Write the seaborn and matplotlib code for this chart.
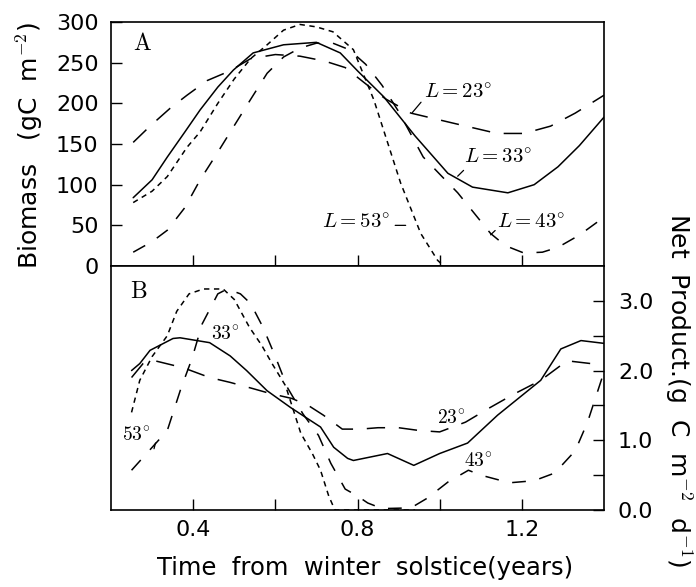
import matplotlib
matplotlib.use('Agg')
import matplotlib.pyplot as plt
import seaborn as sns

# ---- panel A: biomass (gC m-2) ----
t23_a = [0.254, 0.295, 0.344, 0.385, 0.434, 0.49, 0.54, 0.60, 0.66, 0.72, 0.77, 0.81,
         0.85, 0.87, 0.93, 1.03, 1.14, 1.205, 1.27, 1.33, 1.40]
b23 = [152, 172, 194, 210, 228, 240, 255, 260, 258, 252, 244, 228,
       212, 205, 188, 176, 163, 163, 172, 188, 210]

t33_a = [0.254, 0.30, 0.337, 0.38, 0.417, 0.46, 0.498, 0.546, 0.62, 0.70, 0.758, 0.80,
         0.864, 0.94, 1.02, 1.08, 1.166, 1.23, 1.288, 1.34, 1.40]
b33 = [84, 106, 134, 165, 192, 220, 241, 262, 272, 275, 262, 240,
       208, 160, 114, 97, 90, 100, 122, 148, 183]

t43_a = [0.254, 0.30, 0.337, 0.38, 0.417, 0.46, 0.498, 0.54, 0.58, 0.62, 0.66, 0.70,
         0.74, 0.78, 0.82, 0.86, 0.90, 0.96, 1.00, 1.044, 1.124, 1.16, 1.205, 1.25,
         1.288, 1.34, 1.40]
b43 = [17, 30, 44, 72, 106, 140, 171, 205, 237, 257, 268, 274,
       274, 266, 248, 222, 190, 134, 113, 90, 40, 25, 16, 17,
       23, 38, 60]

t53_a = [0.254, 0.30, 0.337, 0.385, 0.417, 0.46, 0.50, 0.54, 0.58, 0.62, 0.66, 0.70,
         0.74, 0.79, 0.84, 0.905, 0.954, 0.995, 1.01]
b53 = [78, 92, 110, 146, 165, 200, 230, 255, 272, 290, 297, 294,
       288, 266, 204, 102, 40, 7, 0]

# ---- panel B: net production (g C m-2 d-1) ----
t23_b = [0.25, 0.278, 0.30, 0.376, 0.44, 0.49, 0.546, 0.588, 0.64, 0.68, 0.717, 0.763,
         0.807, 0.85, 0.90, 0.95, 1.00, 1.063, 1.12, 1.18, 1.246, 1.31, 1.368]
p23 = [1.9, 2.1, 2.15, 2.04, 1.9, 1.83, 1.74, 1.67, 1.6, 1.5, 1.36, 1.16,
       1.16, 1.18, 1.18, 1.14, 1.12, 1.26, 1.46, 1.66, 1.86, 2.14, 2.1]

t33_b = [0.25, 0.27, 0.295, 0.351, 0.368, 0.44, 0.49, 0.53, 0.58, 0.637, 0.71, 0.742,
         0.776, 0.79, 0.873, 0.937, 1.0, 1.068, 1.141, 1.246, 1.295, 1.344, 1.40]
p33 = [2.0, 2.1, 2.29, 2.46, 2.47, 2.4, 2.21, 2.0, 1.71, 1.47, 1.19, 0.9,
       0.74, 0.71, 0.81, 0.64, 0.81, 0.96, 1.36, 1.86, 2.31, 2.43, 2.39]

t43_b = [0.25, 0.337, 0.37, 0.397, 0.422, 0.46, 0.483, 0.515, 0.54, 0.57, 0.60, 0.63,
         0.667, 0.705, 0.735, 0.77, 0.80, 0.825, 0.86, 0.93, 0.97, 1.02, 1.07, 1.1,
         1.17, 1.23, 1.28, 1.33, 1.36, 1.40]
p43 = [0.57, 1.14, 1.74, 2.17, 2.67, 3.1, 3.17, 3.1, 2.96, 2.62, 2.2, 1.75,
       1.38, 1.07, 0.67, 0.3, 0.2, 0.1, 0.02, 0.03, 0.17, 0.4, 0.57, 0.5,
       0.39, 0.42, 0.53, 0.85, 1.26, 1.98]

t53_b = [0.25, 0.27, 0.30, 0.337, 0.36, 0.39, 0.425, 0.473, 0.50, 0.537, 0.567, 0.592,
         0.625, 0.662, 0.69, 0.71, 0.73, 0.745, 0.80, 0.94]
p53 = [1.4, 1.86, 2.2, 2.5, 2.85, 3.1, 3.17, 3.17, 3.02, 2.62, 2.36, 2.1,
       1.78, 1.1, 0.81, 0.57, 0.2, 0.0, 0.0, 0.0]

dash23 = (0, (12, 9))
dash43 = (0, (9, 9))
dash53 = (0, (3.5, 3))

sns.set_style('ticks')
plt.rcParams['font.family'] = ['DejaVu Sans']
plt.rcParams['mathtext.fontset'] = 'cm'
for k in ['text.color', 'axes.labelcolor', 'xtick.color', 'ytick.color', 'axes.edgecolor']:
    plt.rcParams[k] = 'black'

fig = plt.figure(figsize=(6.96, 5.87), dpi=100)
axA = fig.add_axes([0.1595, 0.5468, 0.7083, 0.4157])
axB = fig.add_axes([0.1595, 0.1312, 0.7083, 0.4157])

for ax in (axA, axB):
    for s in ax.spines.values():
        s.set_visible(True)
        s.set_linewidth(1.2)
        s.set_color('black')

# panel A curves
sns.lineplot(x=t23_a, y=b23, ax=axA, color='k', lw=1.1, linestyle=dash23, sort=False, estimator=None)
sns.lineplot(x=t33_a, y=b33, ax=axA, color='k', lw=1.1, sort=False, estimator=None)
sns.lineplot(x=t43_a, y=b43, ax=axA, color='k', lw=1.1, linestyle=dash43, sort=False, estimator=None)
sns.lineplot(x=t53_a, y=b53, ax=axA, color='k', lw=1.1, linestyle=dash53, sort=False, estimator=None)

axA.set_xlim(0.2, 1.4)
axA.set_ylim(0, 300)
axA.set_yticks([0, 50, 100, 150, 200, 250, 300])
axA.set_xticks([0.4, 0.6, 0.8, 1.0, 1.2])
axA.tick_params(axis='x', direction='in', length=8, width=1, labelbottom=False)
axA.tick_params(axis='y', direction='in', length=8, width=1, labelsize=16, pad=9)
axA.set_xlabel('')
axA.set_ylabel('')

axA.text(0.254, 265, r'$\mathrm{A}$', fontsize=17)
tkw = dict(fontsize=15, ha='center', va='center')
axA.text(1.044, 213, r'$L = 23^{\circ}$', **tkw)
axA.text(1.141, 133, r'$L = 33^{\circ}$', **tkw)
axA.text(0.797, 54, r'$L = 53^{\circ}$', **tkw)
axA.text(1.222, 54, r'$L = 43^{\circ}$', **tkw)
lkw = dict(arrowprops=dict(arrowstyle='-', lw=0.9, color='k'))
axA.annotate('', xy=(0.929, 186), xytext=(0.959, 204), **lkw)
axA.annotate('', xy=(1.039, 108), xytext=(1.063, 120), **lkw)
axA.annotate('', xy=(0.924, 50), xytext=(0.885, 50), **lkw)
axA.annotate('', xy=(1.119, 36), xytext=(1.14, 46), **lkw)

# panel B curves
sns.lineplot(x=t23_b, y=p23, ax=axB, color='k', lw=1.1, linestyle=dash23, sort=False, estimator=None)
sns.lineplot(x=t33_b, y=p33, ax=axB, color='k', lw=1.1, sort=False, estimator=None)
sns.lineplot(x=t43_b, y=p43, ax=axB, color='k', lw=1.1, linestyle=dash43, sort=False, estimator=None)
sns.lineplot(x=t53_b, y=p53, ax=axB, color='k', lw=1.1, linestyle=dash53, sort=False, estimator=None)

axB.set_xlim(0.2, 1.4)
axB.set_ylim(0, 3.5)
axB.yaxis.tick_right()
axB.set_yticks([0, 1, 2, 3])
axB.set_yticklabels(['0.0', '1.0', '2.0', '3.0'])
axB.set_yticks([0.5, 1.5, 2.5], minor=True)
axB.set_xticks([0.4, 0.8, 1.2])
axB.set_xticklabels(['0.4', '0.8', '1.2'])
axB.set_xticks([0.6, 1.0], minor=True)
axB.tick_params(axis='x', which='both', direction='in', length=8, width=1, labelsize=16, pad=7)
axB.tick_params(axis='y', which='both', direction='in', length=8, width=1, labelsize=16, pad=10,
                left=False, right=True)
axB.set_xlabel('')
axB.set_ylabel('')

axB.text(0.247, 3.04, r'$\mathrm{B}$', fontsize=17)
bkw = dict(fontsize=14, ha='center', va='center')
axB.text(0.478, 2.52, r'$33^{\circ}$', **bkw)
axB.text(0.261, 1.07, r'$53^{\circ}$', **bkw)
axB.text(1.027, 1.31, r'$23^{\circ}$', **bkw)
axB.text(1.093, 0.70, r'$43^{\circ}$', **bkw)
axB.annotate('', xy=(0.303, 0.84), xytext=(0.31, 1.0),
             arrowprops=dict(arrowstyle='-', lw=0.9, color='k'))

fig.text(0.043, 0.752, r'Biomass   (gC  m$^{-2}$)', rotation=90, ha='center', va='center', fontsize=18)
fig.text(0.974, 0.336, r'Net  Product.(g  C  m$^{-2}$  d$^{-1}$)', rotation=270, ha='center', va='center', fontsize=18)
fig.text(0.524, 0.032, 'Time  from  winter  solstice(years)', ha='center', va='center', fontsize=17.5)

fig.savefig('out.png', dpi=100)
